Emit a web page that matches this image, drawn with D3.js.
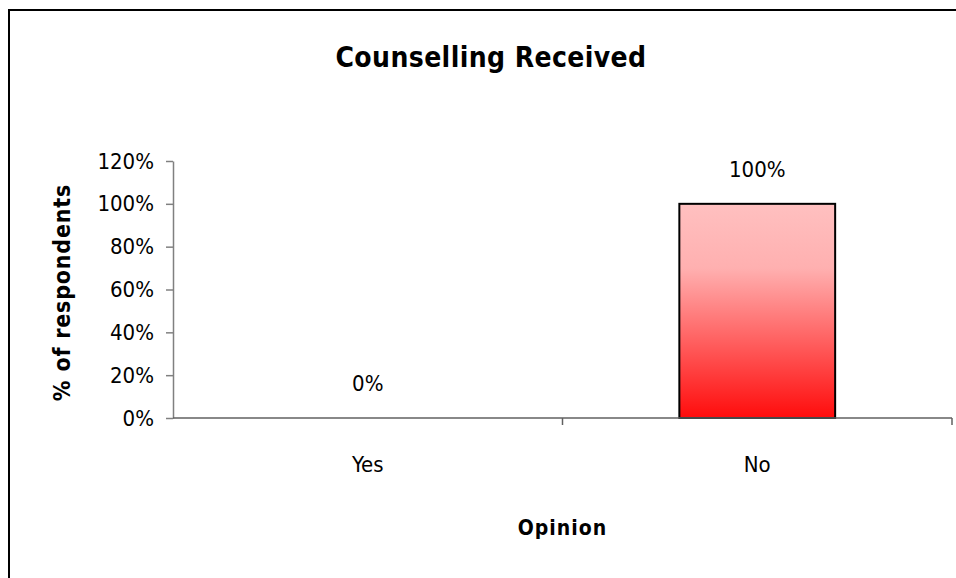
<!DOCTYPE html>
<html>
<head>
<meta charset="utf-8">
<script src="https://cdn.jsdelivr.net/npm/d3@7"></script>
<style>
  html, body { margin: 0; padding: 0; background: #fff; }
  svg { display: block; }
  text { font-family: "DejaVu Sans Condensed", "DejaVu Sans", sans-serif; fill: #000; }
</style>
</head>
<body>
<svg id="chart" width="956" height="578"></svg>
<script>
// Survey answers: share of respondents who received counselling
const categories = ["Yes", "No"];
const values = [0, 1];
const valueLabels = ["0%", "100%"];
const yTicks = [0, 0.2, 0.4, 0.6, 0.8, 1.0, 1.2];
const yTickLabels = ["0%", "20%", "40%", "60%", "80%", "100%", "120%"];

const svg = d3.select("#chart");
const W = 956, H = 578;
const plot = { left: 173, right: 952, top: 161, bottom: 418 };

// Outer chart-area frame (runs off the right and bottom edges)
svg.append("rect")
  .attr("x", 9).attr("y", 10)
  .attr("width", W + 20).attr("height", H + 20)
  .attr("fill", "#fff").attr("stroke", "#000").attr("stroke-width", 2);

const x = d3.scaleBand().domain(categories).range([plot.left, plot.right]).paddingInner(0.6).paddingOuter(0.3);
const xOuter = d3.scaleBand().domain(categories).range([plot.left, plot.right]);
const y = d3.scaleLinear().domain([0, 1.2]).range([plot.bottom, plot.top]);

// Bar fill: pale pink at the top fading to full red at the base
const grad = svg.append("defs").append("linearGradient")
  .attr("id", "barFill").attr("x1", 0).attr("y1", 0).attr("x2", 0).attr("y2", 1);
grad.append("stop").attr("offset", "0%").attr("stop-color", "#ffc0c0");
grad.append("stop").attr("offset", "30%").attr("stop-color", "#ffb0b0");
grad.append("stop").attr("offset", "100%").attr("stop-color", "#ff0c0c");

// Y axis
const yAxis = svg.append("g")
  .attr("transform", `translate(${plot.left},0)`)
  .call(d3.axisLeft(y).tickValues(yTicks).tickFormat((d, i) => yTickLabels[i]).tickSize(7).tickSizeOuter(0).tickPadding(12));
yAxis.select(".domain").attr("stroke", "#808080").attr("stroke-width", 1.5);
yAxis.selectAll(".tick line").attr("stroke", "#808080").attr("stroke-width", 1.5);
yAxis.selectAll(".tick text").attr("font-size", 22).attr("font-family", "'DejaVu Sans Condensed', sans-serif").attr("fill", "#000");

// Bars
svg.selectAll("rect.bar").data(values).join("rect")
  .attr("class", "bar")
  .attr("x", (d, i) => x(categories[i]))
  .attr("width", x.bandwidth())
  .attr("y", d => y(d))
  .attr("height", d => y(0) - y(d))
  .attr("fill", "url(#barFill)")
  .attr("stroke", d => d > 0 ? "#000" : "none")
  .attr("stroke-width", 2);

// X axis (category boundaries ticked, labels centred in each band)
const xAxisG = svg.append("g").attr("transform", `translate(0,${plot.bottom})`);
xAxisG.append("line")
  .attr("x1", plot.left).attr("x2", plot.right)
  .attr("stroke", "#606060").attr("stroke-width", 1.5);
const bounds = categories.map(c => xOuter(c) + xOuter.bandwidth());
xAxisG.selectAll("line.tick").data(bounds).join("line")
  .attr("class", "tick")
  .attr("x1", d => d).attr("x2", d => d)
  .attr("y1", 0).attr("y2", 7)
  .attr("stroke", "#606060").attr("stroke-width", 1.5);
xAxisG.selectAll("text").data(categories).join("text")
  .attr("x", d => xOuter(d) + xOuter.bandwidth() / 2)
  .attr("y", 54)
  .attr("text-anchor", "middle")
  .attr("font-size", 22)
  .text(d => d);

// Value labels above each bar
svg.selectAll("text.value").data(values).join("text")
  .attr("class", "value")
  .attr("x", (d, i) => xOuter(categories[i]) + xOuter.bandwidth() / 2)
  .attr("y", d => y(d) - 27)
  .attr("text-anchor", "middle")
  .attr("font-size", 22)
  .text((d, i) => valueLabels[i]);

// Titles
svg.append("text")
  .attr("x", 491).attr("y", 67)
  .attr("text-anchor", "middle")
  .attr("font-size", 28).attr("font-weight", "bold")
  .attr("letter-spacing", 0.4)
  .text("Counselling Received");

svg.append("text")
  .attr("x", (plot.left + plot.right) / 2).attr("y", 535)
  .attr("text-anchor", "middle")
  .attr("font-size", 21).attr("font-weight", "bold")
  .attr("letter-spacing", 1)
  .text("Opinion");

svg.append("text")
  .attr("transform", `translate(70,${(plot.top + plot.bottom) / 2 + 3}) rotate(-90)`)
  .attr("text-anchor", "middle")
  .attr("font-size", 23).attr("font-weight", "bold")
  .attr("letter-spacing", 0.8)
  .text("% of respondents");
</script>
</body>
</html>
